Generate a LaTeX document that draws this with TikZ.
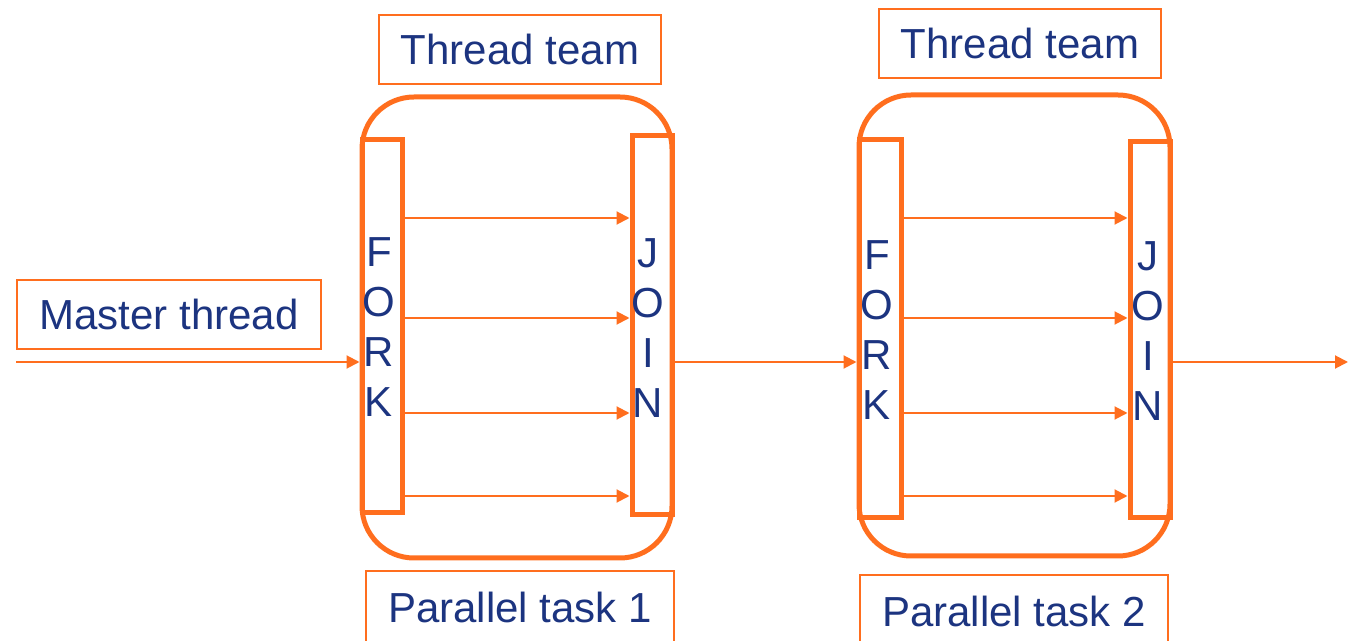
\documentclass[tikz,border=0pt]{standalone}
\usepackage{fontspec}
\setmainfont{Liberation Sans}
\usetikzlibrary{arrows.meta,fit}
\definecolor{forkorange}{RGB}{255,110,30}
\definecolor{labelblue}{RGB}{28,52,128}
\tikzset{
  bar/.style={draw=forkorange, line width=2.5pt, inner sep=0pt},
  team/.style={draw=forkorange, line width=2.5pt, rounded corners=26pt, inner sep=0pt},
  tagbox/.style={draw=forkorange, line width=1pt, inner sep=0pt,
    text=labelblue, font=\fontsize{21}{25}\selectfont},
  letters/.style={text=labelblue, align=center, inner sep=0pt,
    font=\fontsize{21}{25}\selectfont},
  arr/.style={draw=forkorange, line width=1pt,
    -{Triangle[length=6.5pt,width=6.5pt]}},
}
\begin{document}
\begin{tikzpicture}[x=0.5pt,y=-0.5pt]
\useasboundingbox (0,0) rectangle (1357,641);

% first parallel region
\node[team, fit={(362,97) (672,558)}] (team1) {};
\node[bar, fit={(362,140) (402,513)}] (fork1) {};
\node[bar, fit={(632,136) (672,515)}] (join1) {};
\node[letters] (forktxt1) at (379,327) {F\\O\\R\\K};
\node[letters] (jointxt1) at (648,328) {J\\O\\I\\N};
\node[tagbox, minimum width=141pt, minimum height=34.5pt] (tt1) at (520,49.5) {Thread team};
\node[tagbox, minimum width=154pt, minimum height=36pt] (pt1) at (520,607) {Parallel task 1};

% second parallel region
\node[team, fit={(859,95) (1170,556)}] (team2) {};
\node[bar, fit={(859,140) (901,518)}] (fork2) {};
\node[bar, fit={(1130,142) (1170,518)}] (join2) {};
\node[letters] (forktxt2) at (877,330) {F\\O\\R\\K};
\node[letters] (jointxt2) at (1148,331) {J\\O\\I\\N};
\node[tagbox, minimum width=141pt, minimum height=34.5pt] (tt2) at (1020,43.5) {Thread team};
\node[tagbox, minimum width=154pt, minimum height=36pt] (pt2) at (1014,611) {Parallel task 2};

% master thread
\node[tagbox, minimum width=152pt, minimum height=34.5pt] (master) at (169,314.5) {Master thread};
\coordinate (start) at (16,362);
\coordinate (finish) at (1348,362);

% threads inside the regions
\foreach \y in {218,318,413,496} {
  \draw[arr] (fork1.east |- 0,\y) -- (join1.west |- 0,\y);
  \draw[arr] (fork2.east |- 0,\y) -- (join2.west |- 0,\y);
}

% master thread flow
\draw[arr] (start) -- (fork1.west |- start);
\draw[arr] (join1.east |- start) -- (fork2.west |- start);
\draw[arr] (join2.east |- start) -- (finish);
\end{tikzpicture}
\end{document}
